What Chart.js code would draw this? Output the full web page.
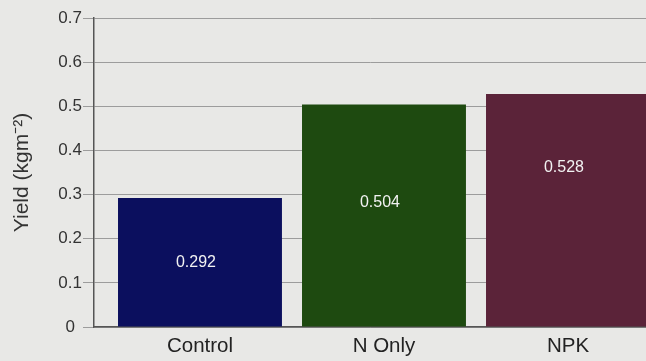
<!DOCTYPE html>
<html><head><meta charset="utf-8">
<script src="https://cdn.jsdelivr.net/npm/chart.js@4/dist/chart.umd.min.js"></script>
<style>
html,body{margin:0;padding:0;background:#e8e8e6;}
#wrap{width:646px;height:361px;position:relative;}
</style></head>
<body><div id="wrap"><canvas id="c" width="646" height="361"></canvas></div>
<script>
const categories = ['Control', 'N Only', 'NPK'];
const yieldValues = [0.292, 0.504, 0.528];
const valueLabels = ['0.292', '0.504', '0.528'];
const yTicks = [0, 0.1, 0.2, 0.3, 0.4, 0.5, 0.6, 0.7];
const yTickLabels = ['0', '0.1', '0.2', '0.3', '0.4', '0.5', '0.6', '0.7'];
const barColors = ['#0b0f5e', '#1e4a10', '#5b2339'];
const labelAnchor = [0.147, 0.281, 0.36];

const barLabels = {
  id: 'barLabels',
  afterDatasetsDraw(chart) {
    const ctx = chart.ctx, xs = chart.scales.x, ys = chart.scales.y;
    ctx.save();
    ctx.fillStyle = '#f2f2f2';
    ctx.font = '16px "Liberation Sans", Arial, sans-serif';
    ctx.textAlign = 'center';
    ctx.textBaseline = 'middle';
    valueLabels.forEach((t, i) => {
      ctx.fillText(t, xs.getPixelForValue(i) - 4, ys.getPixelForValue(labelAnchor[i]));
    });
    ctx.restore();
  }
};

new Chart(document.getElementById('c'), {
  type: 'bar',
  data: {
    datasets: [{
      data: yieldValues.map((v, i) => ({x: i, y: v})),
      backgroundColor: barColors,
      borderWidth: 0,
      categoryPercentage: 1,
      barPercentage: 0.891
    }]
  },
  plugins: [barLabels],
  options: {
    responsive: false,
    animation: false,
    layout: {padding: {top: 18, right: 0, left: 0, bottom: 0}},
    plugins: {legend: {display: false}, tooltip: {enabled: false}},
    scales: {
      x: {
        type: 'linear',
        offset: false,
        min: -0.576,
        max: 2.424,
        afterBuildTicks: s => { s.ticks = categories.map((c, i) => ({value: i})); },
        afterFit: s => { s.height = 34; },
        grid: {display: false, drawTicks: false, offset: false},
        border: {display: true, color: '#555', width: 1.5},
        ticks: {
          callback: v => categories[v] ?? '',
          font: {family: '"Liberation Sans", Arial, sans-serif', size: 20.5},
          color: '#222',
          padding: 7,
          maxRotation: 0
        }
      },
      y: {
        min: 0,
        max: 0.7,
        afterBuildTicks: s => { s.ticks = yTicks.map(v => ({value: v})); },
        afterFit: s => { s.width = 94; },
        grid: {color: '#9c9c9c', lineWidth: 1, tickLength: 11},
        border: {display: true, color: '#555', width: 1.5},
        ticks: {
          callback: (v, i) => yTickLabels[i],
          font: {family: '"Liberation Sans", Arial, sans-serif', size: 17},
          color: '#333',
          padding: 1,
          crossAlign: 'center'
        },
        title: {
          display: true,
          text: 'Yield (kgm⁻²)',
          font: {family: '"Liberation Sans", Arial, sans-serif', size: 21},
          color: '#333',
          padding: {top: 10, bottom: 0}
        }
      }
    }
  }
});
</script></body></html>
